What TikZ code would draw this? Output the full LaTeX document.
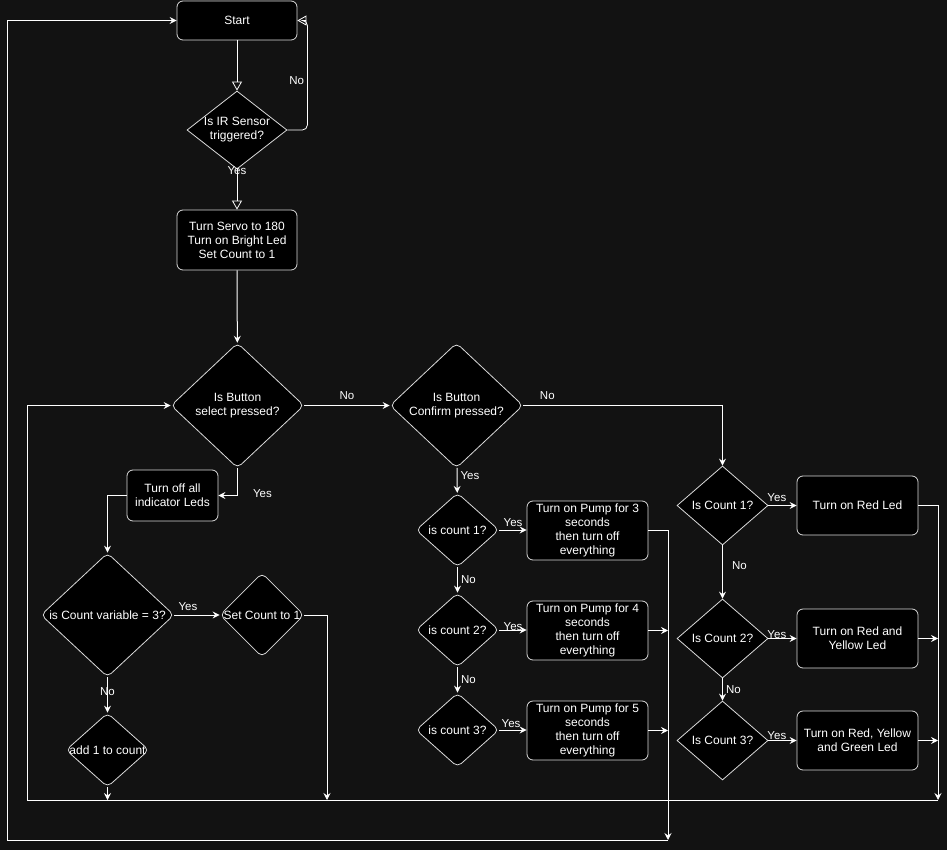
\documentclass[tikz,border=0pt]{standalone}
\usepackage{fontspec}
\setmainfont{Liberation Sans}
\usepackage{tikz}
\usetikzlibrary{arrows.meta, positioning, shapes.geometric}

\definecolor{bgdark}{HTML}{121212}
\definecolor{edgegray}{HTML}{DADADA}

\begin{document}
\begin{tikzpicture}[
		x=1pt, y=-1pt,
		font=\fontsize{12}{14}\selectfont,
		text=white,
		box/.style={draw=edgegray, fill=black, rounded corners=6pt, align=center, inner sep=2pt, line width=0.8pt},
		dia/.style={draw=edgegray, fill=black, diamond, align=center, inner sep=0pt, line width=0.8pt},
		rdia/.style={dia, rounded corners=5pt},
		flow/.style={draw=white, line width=1pt, -{Stealth[length=7pt, width=7pt, inset=2.5pt]}},
		hollow/.style={draw=white, line width=0.8pt, -{Triangle[open, length=9pt, width=10pt]}},
		lbl/.style={font=\fontsize{11.5}{13}\selectfont, text=white, inner sep=1pt}
		]
		
		% Background and frame
		\fill[bgdark] (0,0) rectangle (947,850);
		\useasboundingbox (0,0) rectangle (947,850);
		
		% Top level
		\node[box, minimum width=120pt, minimum height=39pt] (start) at (237,20.5) {Start};
		\node[dia, aspect=1.28, minimum width=100pt, minimum height=78pt] (ir) at (237,130) {Is IR Sensor\\triggered?};
		\node[box, minimum width=120pt, minimum height=60pt] (servo) at (237,240) {Turn Servo to 180\\Turn on Bright Led\\Set Count to 1};
		
		\draw[hollow] (start) -- (ir);
		\draw[hollow] (ir) -- node[lbl, pos=0.03] {Yes} (servo);
		\draw[hollow, rounded corners=5pt] (ir.east) -- ++(20,0) |- node[lbl, pos=0.25, left, xshift=-2pt, yshift=-5pt] {No} (start.east);
		
		% Button checks
		\node[rdia, minimum width=133pt, minimum height=125pt] (select) at (237.5,405.5) {Is Button\\select pressed?};
		\node[rdia, minimum width=133pt, minimum height=125pt] (confirm) at (456.5,405.5) {Is Button\\Confirm pressed?};
		
		\draw[flow] (servo) -- (select);
		\draw[flow] (select) -- node[lbl, above=4pt] {No} (confirm);
		
		% Select branch
		\node[box, minimum width=91pt, minimum height=51pt] (ledsoff) at (172.5,495.5) {Turn off all\\indicator Leds};
		\node[rdia, aspect=1.07, inner xsep=-3pt, minimum width=133pt, minimum height=124pt] (isthree) at (107.5,615) {is Count variable = 3?};
		\node[rdia, inner xsep=-6pt, minimum width=84pt, minimum height=84pt] (resetcount) at (262,615) {Set Count to 1};
		\node[rdia, aspect=1.12, inner xsep=-8pt, minimum width=83pt, minimum height=74pt] (addone) at (107.5,750) {add 1 to count};
		
		\draw[flow] (select.south) |- node[lbl, pos=0.5, right, xshift=14pt, yshift=2pt] {Yes} (ledsoff.east);
		\draw[flow] (ledsoff.west) -| (isthree.north);
		\draw[flow] (isthree) -- node[lbl, pos=0.3, above=3pt] {Yes} (resetcount);
		\draw[flow] (isthree) -- node[lbl, pos=0.4] {No} (addone);
		
		% Confirm branch, pump
		\node[rdia, aspect=1.12, minimum width=83pt, minimum height=74pt] (pumpq1) at (457.5,530) {is count 1?};
		\node[rdia, aspect=1.12, minimum width=83pt, minimum height=74pt] (pumpq2) at (457.5,630) {is count 2?};
		\node[rdia, aspect=1.12, minimum width=83pt, minimum height=74pt] (pumpq3) at (457.5,730) {is count 3?};
		\node[box, minimum width=121pt, minimum height=59pt] (pump1) at (587.5,530.5) {Turn on Pump for 3\\seconds\\then turn off\\everything};
		\node[box, minimum width=121pt, minimum height=59pt] (pump2) at (587.5,630.5) {Turn on Pump for 4\\seconds\\then turn off\\everything};
		\node[box, minimum width=121pt, minimum height=59pt] (pump3) at (587.5,730.5) {Turn on Pump for 5\\seconds\\then turn off\\everything};
		
		\draw[flow] (confirm) -- node[lbl, pos=0.3, right=2pt] {Yes} (pumpq1);
		\draw[flow] (pumpq1) -- node[lbl, above=2pt] {Yes} (pumpq1 -| pump1.west);
		\draw[flow] (pumpq2) -- node[lbl, above=-2pt] {Yes} (pumpq2 -| pump2.west);
		\draw[flow] (pumpq3) -- node[lbl, above=1pt, xshift=-2pt] {Yes} (pumpq3 -| pump3.west);
		\draw[flow] (pumpq1) -- node[lbl, right=2pt] {No} (pumpq2);
		\draw[flow] (pumpq2) -- node[lbl, right=2pt] {No} (pumpq3);
		
		% Confirm not pressed, leds
		\node[dia, aspect=1.15, minimum width=91pt, minimum height=79pt] (ledq1) at (722.5,505.5) {Is Count 1?};
		\node[dia, aspect=1.15, minimum width=91pt, minimum height=79pt] (ledq2) at (722.5,638.5) {Is Count 2?};
		\node[dia, aspect=1.15, minimum width=91pt, minimum height=79pt] (ledq3) at (722.5,740.5) {Is Count 3?};
		\node[box, minimum width=121pt, minimum height=59pt] (redled) at (857.5,505.5) {Turn on Red Led};
		\node[box, minimum width=121pt, minimum height=59pt] (ryled) at (857.5,638.5) {Turn on Red and\\Yellow Led};
		\node[box, minimum width=121pt, minimum height=59pt] (rygled) at (857.5,740.5) {Turn on Red, Yellow\\and Green Led};
		
		\draw[flow] (confirm.east) -| node[lbl, pos=0.06, above=4pt] {No} (ledq1.north);
		\draw[flow] (ledq1) -- node[lbl, pos=0.3, above=2pt] {Yes} (redled);
		\draw[flow] (ledq2) -- node[lbl, pos=0.3, above=-2pt] {Yes} (ryled);
		\draw[flow] (ledq3) -- node[lbl, pos=0.3, above=-1pt] {Yes} (rygled);
		\draw[flow] (ledq1) -- node[lbl, pos=0.38, right=8pt] {No} (ledq2);
		\draw[flow] (ledq2) -- node[lbl, right=2pt] {No} (ledq3);
		
		% Return paths
		\coordinate (inner) at (938,800);
		\coordinate (innerL) at (27,800);
		\coordinate (outer) at (668,840);
		\coordinate (outerL) at (7,840);
		\coordinate (resetdrop) at (327,800);
		
		\draw[flow] (redled.east) -| (inner);
		\draw[flow] (ryled.east) -- (ryled.east -| inner);
		\draw[flow] (rygled.east) -- (rygled.east -| inner);
		\draw[flow] (addone.south) -- (addone.south |- inner);
		\draw[flow] (resetcount.east) -| (resetdrop);
		\draw[flow] (inner) -- (innerL) |- (select.west);
		
		\draw[flow] (pump1.east) -| (outer);
		\draw[flow] (pump2.east) -- (pump2.east -| outer);
		\draw[flow] (pump3.east) -- (pump3.east -| outer);
		\draw[flow] (outer) -- (outerL) |- (start.west);
		
	\end{tikzpicture}
\end{document}
